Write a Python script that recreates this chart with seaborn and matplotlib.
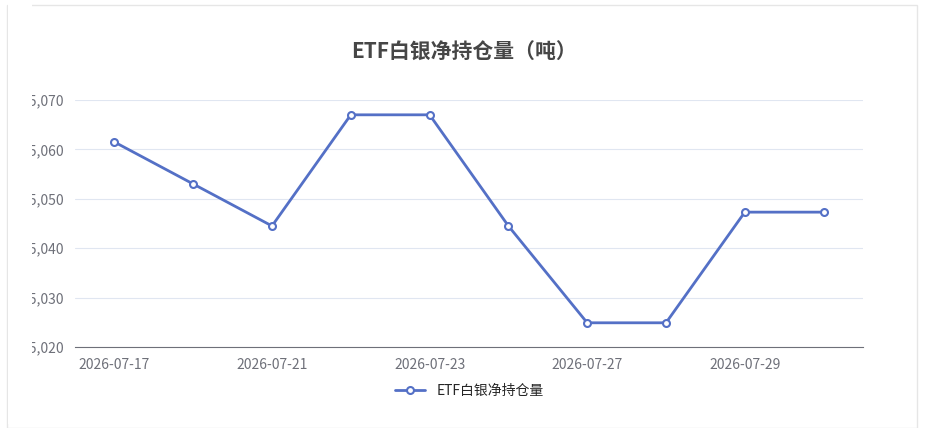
import matplotlib
matplotlib.use("Agg")
import matplotlib.pyplot as plt
import seaborn as sns
import pandas as pd
from matplotlib.patches import Rectangle
from matplotlib.ticker import FuncFormatter

dates = ["2026-07-17", "2026-07-20", "2026-07-21", "2026-07-22", "2026-07-23",
         "2026-07-24", "2026-07-27", "2026-07-28", "2026-07-29", "2026-07-30"]
holdings = [15061.5, 15053.0, 15044.5, 15067.0, 15067.0,
            15044.5, 15024.9, 15024.9, 15047.3, 15047.3]
series_name = "ETF白银净持仓量"

sns.set_style("white")
plt.rcParams['font.family'] = ['Noto Sans CJK SC', 'DejaVu Sans']

df = pd.DataFrame({"date": dates, "value": holdings, "s": series_name})
df["i"] = range(len(dates))

fig = plt.figure(figsize=(9.28, 4.28), dpi=100)
ax = fig.add_axes([75/928, 1-347/428, (863-75)/928, (347-100)/428])
color = "#5470c6"
sns.lineplot(data=df, x="i", y="value", hue="s", palette=[color], ax=ax,
             marker="o", markersize=5, markerfacecolor="white",
             markeredgecolor=color, markeredgewidth=1.5, linewidth=2)
ax.set_xlim(-0.5, len(dates) - 0.5)
ax.set_ylim(15020, 15070)
ax.set_yticks(range(15020, 15071, 10))
ax.yaxis.set_major_formatter(FuncFormatter(lambda v, p: f"{int(v):,}"))
ax.set_xticks(range(0, len(dates), 2))
ax.set_xticklabels(dates[::2])
ax.grid(axis="y", color="#e0e6f1")
for s in ["top", "right", "left"]:
    ax.spines[s].set_visible(False)
ax.spines["bottom"].set_color("#6e7079")
ax.tick_params(axis="both", colors="#6e7079", labelsize=10, length=0, pad=8)
ax.set_xlabel("")
ax.set_ylabel("")
ax.legend(loc="upper center", bbox_to_anchor=(0.5, -0.1), frameon=False,
          fontsize=10, handlelength=2.2)
fig.text(0.5, 1-52/428, "ETF白银净持仓量（吨）", ha="center", va="center",
         fontsize=15, fontweight="bold", color="#464646")
# outer frame and clipping of the y labels
fig.patches.append(Rectangle((7/928, 0), 910/928, 1-5/428, transform=fig.transFigure,
                             fill=False, edgecolor="#e6e6e6", linewidth=1))
fig.patches.append(Rectangle((8/928, 0.01), 24/928, 0.98, transform=fig.transFigure,
                             facecolor="white", edgecolor="none", zorder=10))
fig.savefig("out.png", dpi=100)
